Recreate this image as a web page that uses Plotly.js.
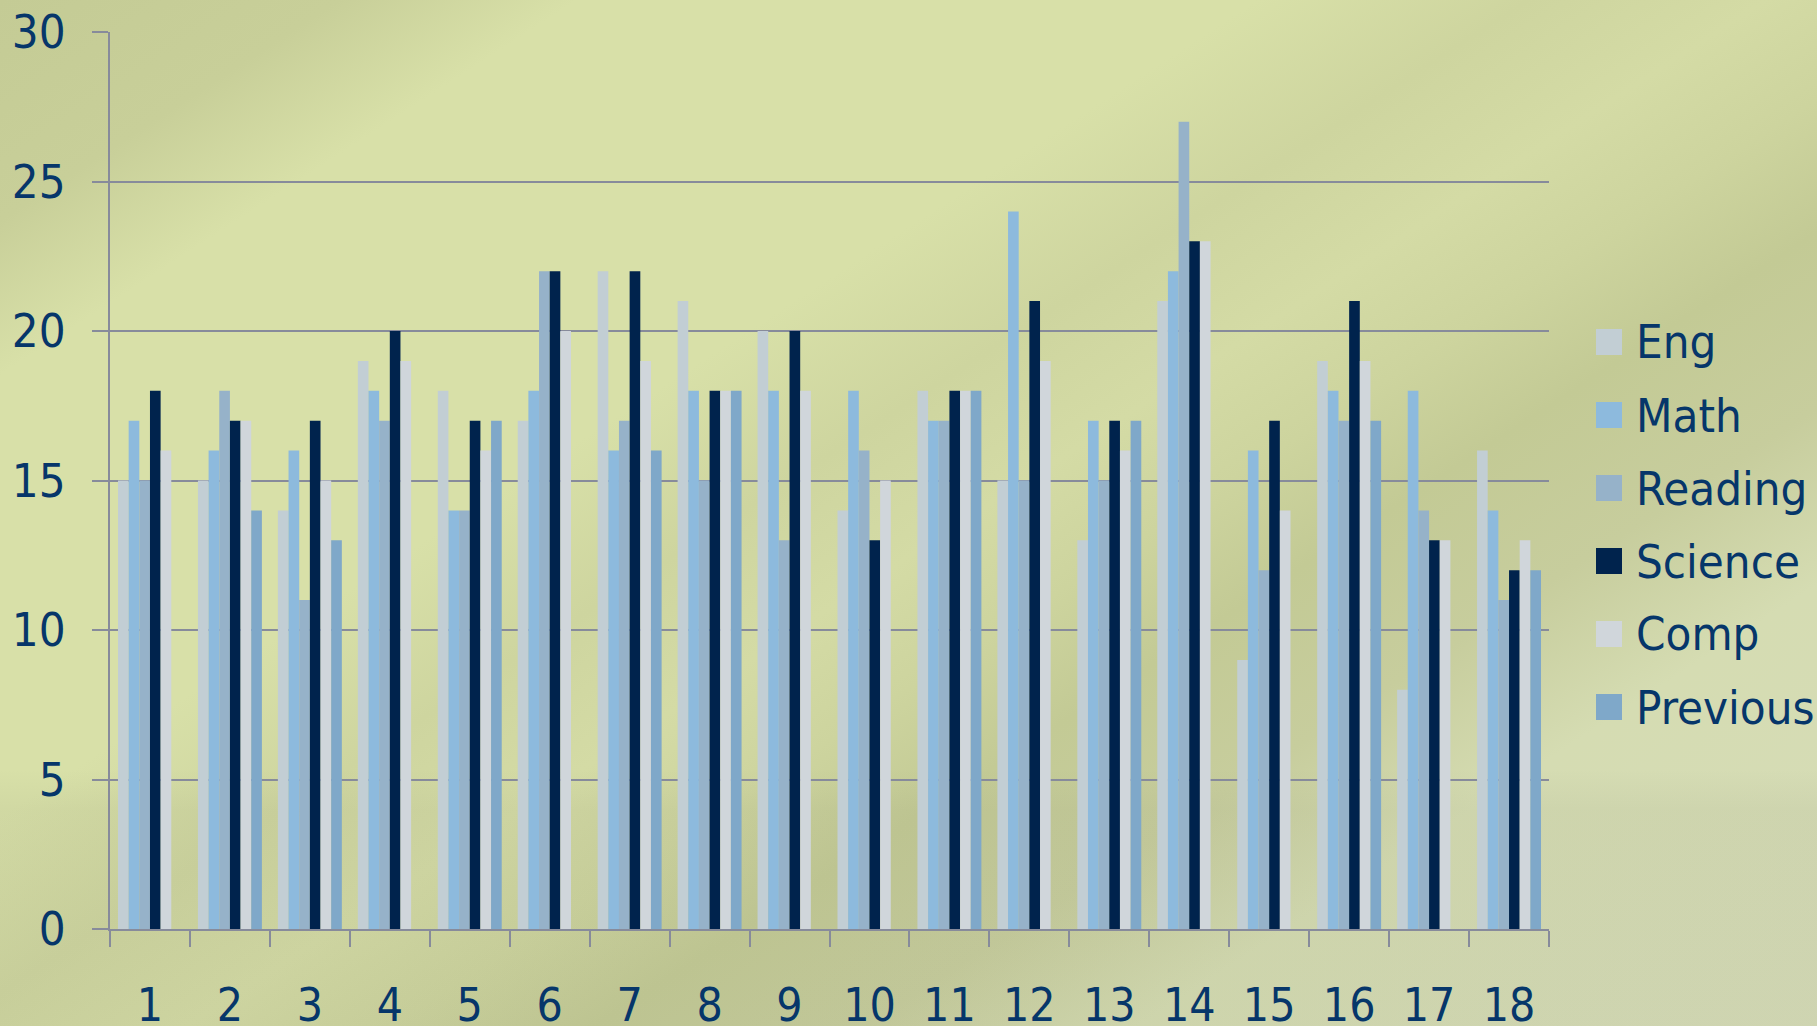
<!DOCTYPE html>
<html>
<head>
<meta charset="utf-8">
<script src="https://cdn.plot.ly/plotly-3.0.1.min.js"></script>
<style>
  html, body { margin: 0; padding: 0; }
  #chart {
    width: 1817px; height: 1026px;
    background:
      linear-gradient(to bottom, rgba(0,0,0,0) 0%, rgba(0,0,0,0) 75%, rgba(120,125,100,0.08) 79%, rgba(120,125,100,0.08) 100%),
      linear-gradient(147deg, #c4cb95 0%, #c8cf99 10%, #d8e0a8 17%, #d8e0a8 37%, #ced59f 45%, #d4dba5 52%, #cdd49e 58%, #c3ca95 64%, #c7cd9d 72%, #d5dcb2 80%, #d6dcb8 100%);
  }
</style>
</head>
<body>
<div id="chart"></div>
<script>
const categories = ['1','2','3','4','5','6','7','8','9','10','11','12','13','14','15','16','17','18'];
const seriesNames = ['Eng','Math','Reading','Science','Comp','Previous'];
const eng      = [15,15,14,19,18,17,22,21,20,14,18,15,13,21, 9,19, 8,16];
const math     = [17,16,16,18,14,18,16,18,18,18,17,24,17,22,16,18,18,14];
const reading  = [15,18,11,17,14,22,17,15,13,16,17,15,15,27,12,17,14,11];
const science  = [18,17,17,20,17,22,22,18,20,13,18,21,17,23,17,21,13,12];
const comp     = [16,17,15,19,16,20,19,18,18,15,18,19,16,23,14,19,13,13];
const previous = [null,14,13,null,17,null,16,18,null,null,18,null,17,null,null,17,null,12];
const yTicks = [0,5,10,15,20,25,30];

const colors = ['#c2ced4','#8dbadd','#96b2c9','#00234d','#d0d6db','#7fa8c9'];
const values = [eng, math, reading, science, comp, previous];
const textColor = '#06366a';
const gridColor = '#878b9b';
const fontFam = 'DejaVu Sans Condensed, DejaVu Sans, sans-serif';

const W = 1817, H = 1026;
const margin = {l: 110, r: 268, t: 32, b: 97, pad: 0};
const plotW = W - margin.l - margin.r;
const plotH = H - margin.t - margin.b;

const traces = seriesNames.map((name, i) => ({
  type: 'bar',
  name: name,
  x: categories,
  y: values[i],
  marker: {color: colors[i], line: {width: 0}},
  showlegend: false,
  hoverinfo: 'x+y+name'
}));

// custom legend (large square swatches like the original)
const shapes = [];
const annotations = [];
const legX0 = 1596, sw = 26, legY0 = 342, legStep = 73;
const px2x = p => (p - margin.l) / plotW;
const py2y = p => (H - margin.b - p) / plotH;
seriesNames.forEach((name, i) => {
  const cy = legY0 + i * legStep;
  shapes.push({
    type: 'rect', xref: 'paper', yref: 'paper',
    x0: px2x(legX0), x1: px2x(legX0 + sw),
    y0: py2y(cy + sw / 2), y1: py2y(cy - sw / 2),
    fillcolor: colors[i], line: {width: 0}
  });
  annotations.push({
    xref: 'paper', yref: 'paper',
    x: px2x(legX0 + sw + 12), y: py2y(cy),
    xanchor: 'left', yanchor: 'middle',
    text: name, showarrow: false,
    font: {family: fontFam, size: 47, color: textColor}
  });
});

const layout = {
  width: W, height: H,
  margin: margin,
  paper_bgcolor: 'rgba(0,0,0,0)',
  plot_bgcolor: 'rgba(0,0,0,0)',
  barmode: 'group',
  bargap: 0.2,
  bargroupgap: 0,
  showlegend: false,
  font: {family: fontFam, size: 47, color: textColor},
  xaxis: {
    type: 'category',
    tickson: 'boundaries',
    ticks: 'outside', ticklen: 16, tickwidth: 2, tickcolor: gridColor,
    showline: true, linecolor: gridColor, linewidth: 2,
    showgrid: false, zeroline: false,
    ticklabelstandoff: 35,
    tickfont: {family: fontFam, size: 46, color: textColor}
  },
  yaxis: {
    range: [0, 30],
    tickvals: yTicks,
    ticktext: yTicks.map(String),
    ticks: 'outside', ticklen: 16, tickwidth: 2, tickcolor: gridColor,
    showline: true, linecolor: gridColor, linewidth: 2,
    showgrid: true, gridcolor: gridColor, gridwidth: 2,
    zeroline: false,
    ticklabelstandoff: 17,
    tickfont: {family: fontFam, size: 47, color: textColor}
  },
  shapes: shapes,
  annotations: annotations
};

Plotly.newPlot('chart', traces, layout, {displayModeBar: false, staticPlot: true});
</script>
</body>
</html>
